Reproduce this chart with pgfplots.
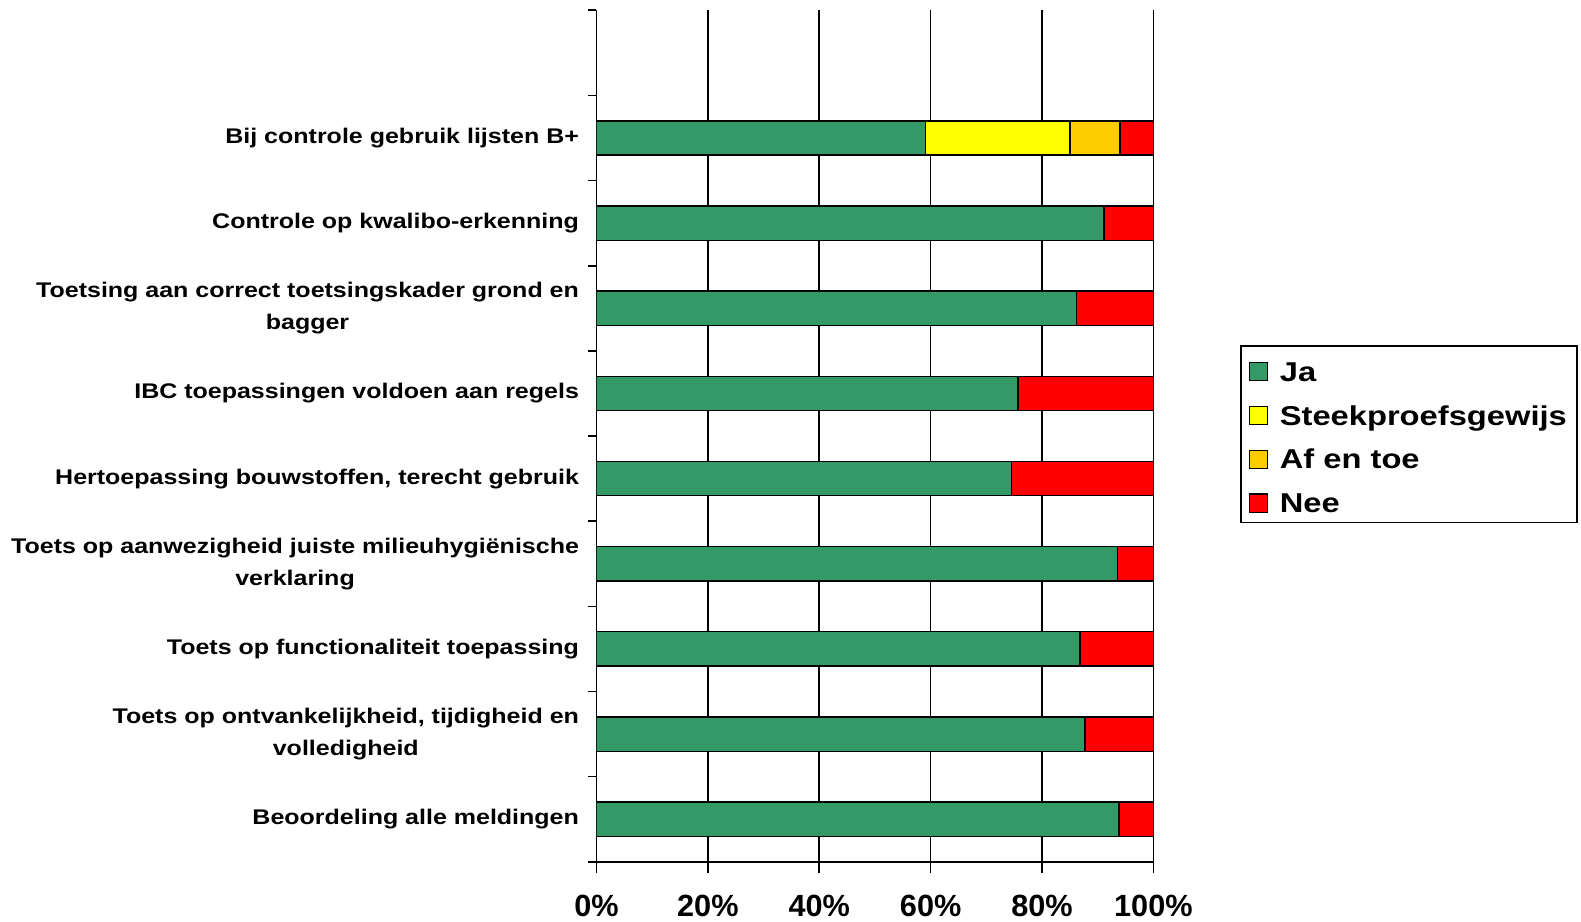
\documentclass[border=0pt]{standalone}
\usepackage{fontspec}
\usepackage{pgfplots}
\pgfplotsset{compat=1.18}
\setmainfont{Liberation Sans}
\newfontfamily\catfont[FakeStretch=1.18]{Liberation Sans}
\newfontfamily\legfont[FakeStretch=1.2]{Liberation Sans}
\definecolor{ja}{HTML}{339966}
\definecolor{steek}{HTML}{FFFF00}
\definecolor{afentoe}{HTML}{FFCC00}
\definecolor{nee}{HTML}{FF0000}
\begin{document}
\begin{tikzpicture}
\begin{axis}[
  scale only axis,
  width=276pt, height=422pt,
  xbar stacked,
  bar width=17pt,
  xmin=0, xmax=100,
  ymin=-0.5, ymax=9.5,
  axis lines*=left,
  axis line style={-, black, line width=0.9pt},
  tick align=outside,
  major tick length=5.5pt,
  minor tick length=4pt,
  xtick={0,20,40,60,80,100},
  xticklabels={0\%,20\%,40\%,60\%,80\%,100\%},
  xticklabel style={font=\bfseries\fontsize{15.2}{15.2}\selectfont, inner sep=0pt, yshift=-11pt},
  xmajorgrids,
  major grid style={black, line width=0.8pt},
  ytick={0,...,8},
  yticklabels={
    Beoordeling alle meldingen,
    Toets op ontvankelijkheid{,} tijdigheid en\\volledigheid,
    Toets op functionaliteit toepassing,
    Toets op aanwezigheid juiste milieuhygiënische\\verklaring,
    Hertoepassing bouwstoffen{,} terecht gebruik,
    IBC toepassingen voldoen aan regels,
    Toetsing aan correct toetsingskader grond en\\bagger,
    Controle op kwalibo-erkenning,
    Bij controle gebruik lijsten B+},
  yticklabel style={font=\catfont\bfseries\fontsize{10.5}{16}\selectfont, align=center, inner sep=0pt, xshift=-3pt},
  major y tick style={draw=none},
  minor ytick={-0.5,0.5,...,9.5},
  minor y tick style={black, line width=0.8pt},
  x tick style={black, line width=0.8pt},
  every axis plot/.append style={draw=black, line width=0.7pt},
  legend style={at={(1.1558,0.502)}, anchor=west, draw=black, line width=0.7pt,
    font=\legfont\bfseries\fontsize{13.5}{13.5}\selectfont,
    row sep=7.2pt, inner xsep=4pt, inner ysep=4pt,
    nodes={inner sep=1pt, text depth=0pt, text height=12.5pt}},
  legend cell align=left,
  legend image code/.code={\draw[#1, draw=black, line width=0.6pt] (0pt,-6pt) rectangle (9pt,3pt);
    \path[draw=none, fill=none] (14pt,-1.5pt);},
]
\addplot[fill=ja] coordinates {
  (93.8,0) (87.7,1) (86.8,2) (93.5,3) (74.5,4) (75.7,5) (86.2,6) (91.1,7) (59.1,8)};
\addplot[fill=steek] coordinates {
  (0,0) (0,1) (0,2) (0,3) (0,4) (0,5) (0,6) (0,7) (25.9,8)};
\addplot[fill=afentoe] coordinates {
  (0,0) (0,1) (0,2) (0,3) (0,4) (0,5) (0,6) (0,7) (9.0,8)};
\addplot[fill=nee] coordinates {
  (6.2,0) (12.3,1) (13.2,2) (6.5,3) (25.5,4) (24.3,5) (13.8,6) (8.9,7) (6.0,8)};
\legend{Ja, Steekproefsgewijs, Af en toe, Nee}
\end{axis}
\pgfresetboundingbox
\useasboundingbox (-295.6pt,-29.8pt) rectangle (487.9pt,427.1pt);
\end{tikzpicture}
\end{document}
